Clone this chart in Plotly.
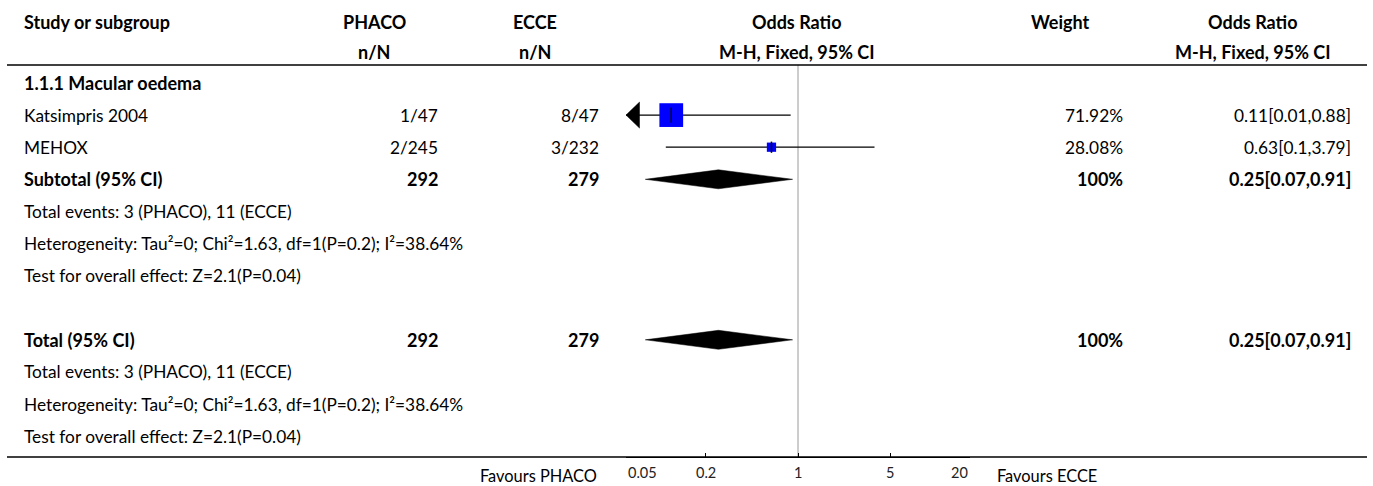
import math
import plotly.graph_objects as go

# ---------------- data ----------------
subgroup_title = "1.1.1 Macular oedema"
studies = ["Katsimpris 2004", "MEHOX"]
phaco_events = [1, 2]
phaco_total = [47, 245]
ecce_events = [8, 3]
ecce_total = [47, 232]
or_est = [0.11, 0.63]
or_lo = [0.01, 0.1]
or_hi = [0.88, 3.79]
weights = [71.92, 28.08]

sub_phaco_total = 292
sub_ecce_total = 279
sub_est = 0.25
sub_lo = 0.07
sub_hi = 0.91
sub_weight = 100

tot_phaco_total = 292
tot_ecce_total = 279
tot_est = 0.25
tot_lo = 0.07
tot_hi = 0.91
tot_weight = 100

events_text = "Total events: 3 (PHACO), 11 (ECCE)"
het_text = "Heterogeneity: Tau²=0; Chi²=1.63, df=1(P=0.2); I²=38.64%"
test_text = "Test for overall effect: Z=2.1(P=0.04)"

tick_vals = [0.05, 0.2, 1, 5, 20]
tick_text = ["0.05", "0.2", "1", "5", "20"]
x_min, x_max = 0.05, 20
left_label = "Favours PHACO"
right_label = "Favours ECCE"

# ---------------- layout geometry ----------------
W, H = 1373, 486
ROW0_PX = 83.0     # pixel centre of first body row
ROW_H = 32.1       # row pitch in pixels
AXIS_PX = 457.0    # y pixel of the bottom axis line
TOP_LINE_PX = 65.0
AX_X0, AX_X1 = 626.0, 970.0

def r_of_px(py):
    return (py - ROW0_PX) / ROW_H

def px(xp):
    return xp / W

def py_paper(yp):
    return 1 - yp / H

FONT = "Lato"
FS = 17.3
FS_B = 18.0
BLACK = "#000000"

def fmt(v):
    return f"{v:g}"

fig = go.Figure()
ann = []

def txt(x, y, s, anchor="left", bold=False, yref="y", size=None, family=FONT):
    if size is None:
        size = FS_B if bold else FS
    ann.append(dict(x=x, y=y, xref="paper", yref=yref, text=(f"<b>{s}</b>" if bold else s),
                    showarrow=False, xanchor=anchor, yanchor="middle",
                    font=dict(family=family, size=size, color=BLACK)))

# header
hdr1 = r_of_px(22)
hdr2 = r_of_px(52)
txt(px(22), hdr1, "Study or subgroup", bold=True)
txt(px(374), hdr1, "PHACO", "center", True)
txt(px(374), hdr2, "n/N", "center", True)
txt(px(535), hdr1, "ECCE", "center", True)
txt(px(535), hdr2, "n/N", "center", True)
txt(px(797), hdr1, "Odds Ratio", "center", True)
txt(px(797), hdr2, "M-H, Fixed, 95% CI", "center", True)
txt(px(1060), hdr1, "Weight", "center", True)
txt(px(1253), hdr1, "Odds Ratio", "center", True)
txt(px(1253), hdr2, "M-H, Fixed, 95% CI", "center", True)

COL_PHACO = px(440)
COL_ECCE = px(601)
COL_W = px(1125)
COL_OR = px(1353)
COL_L = px(22)

# rows
row = 0
txt(COL_L, row, subgroup_title, bold=True)
study_rows = []
for i, s in enumerate(studies):
    row += 1
    study_rows.append(row)
    txt(COL_L, row, s)
    txt(COL_PHACO, row, f"{phaco_events[i]}/{phaco_total[i]}", "right")
    txt(COL_ECCE, row, f"{ecce_events[i]}/{ecce_total[i]}", "right")
    txt(COL_W, row, f"{weights[i]:.2f}%", "right")
    txt(COL_OR, row, f"{fmt(or_est[i])}[{fmt(or_lo[i])},{fmt(or_hi[i])}]", "right")

row += 1
sub_row = row
txt(COL_L, row, "Subtotal (95% CI)", bold=True)
txt(COL_PHACO, row, str(sub_phaco_total), "right", True)
txt(COL_ECCE, row, str(sub_ecce_total), "right", True)
txt(COL_W, row, f"{sub_weight}%", "right", True)
txt(COL_OR, row, f"{fmt(sub_est)}[{fmt(sub_lo)},{fmt(sub_hi)}]", "right", True)
for t in [events_text, het_text, test_text]:
    row += 1
    txt(COL_L, row, t)
row += 2
tot_row = row
txt(COL_L, row, "Total (95% CI)", bold=True)
txt(COL_PHACO, row, str(tot_phaco_total), "right", True)
txt(COL_ECCE, row, str(tot_ecce_total), "right", True)
txt(COL_W, row, f"{tot_weight}%", "right", True)
txt(COL_OR, row, f"{fmt(tot_est)}[{fmt(tot_lo)},{fmt(tot_hi)}]", "right", True)
for t in [events_text, het_text, test_text]:
    row += 1
    txt(COL_L, row, t)

# ---------------- forest marks ----------------
px_per_dec = (AX_X1 - AX_X0) / (math.log10(x_max) - math.log10(x_min))

# null line
fig.add_trace(go.Scatter(x=[1, 1], y=[r_of_px(TOP_LINE_PX), r_of_px(AXIS_PX)], mode="lines",
                         line=dict(color="#9a9a9a", width=1), hoverinfo="skip", showlegend=False))

for i, r in enumerate(study_rows):
    lo = max(or_lo[i], x_min)
    hi = min(or_hi[i], x_max)
    fig.add_trace(go.Scatter(x=[lo, hi], y=[r, r], mode="lines",
                             line=dict(color=BLACK, width=1.2), hoverinfo="skip", showlegend=False))
    if or_lo[i] < x_min:
        base = x_min * 10 ** (13.5 / px_per_dec)
        hh = 13 / ROW_H
        fig.add_trace(go.Scatter(x=[x_min, base, base, x_min], y=[r, r - hh, r + hh, r],
                                 mode="lines", fill="toself", fillcolor=BLACK,
                                 line=dict(color=BLACK, width=0.5), hoverinfo="skip", showlegend=False))
    fig.add_trace(go.Scatter(x=[or_est[i]], y=[r], mode="markers",
                             marker=dict(symbol="square", size=weights[i] * 0.33, color="#0000ff",
                                         line=dict(width=0)),
                             hoverinfo="skip", showlegend=False))
    fig.add_trace(go.Scatter(x=[or_est[i]], y=[r], mode="markers",
                             marker=dict(symbol="line-ns-open", size=max(8, weights[i] * 0.15),
                                         color=BLACK, line=dict(color=BLACK, width=1.5)),
                             hoverinfo="skip", showlegend=False))

dh = 9.5 / ROW_H
for r, lo, est, hi in [(sub_row, sub_lo, sub_est, sub_hi), (tot_row, tot_lo, tot_est, tot_hi)]:
    fig.add_trace(go.Scatter(x=[lo, est, hi, est, lo], y=[r, r - dh, r, r + dh, r],
                             mode="lines", fill="toself", fillcolor=BLACK,
                             line=dict(color=BLACK, width=0.5), hoverinfo="skip", showlegend=False))

# tick labels as annotations (first left aligned, last right aligned)
for k, (v, t) in enumerate(zip(tick_vals, tick_text)):
    anchor = "left" if k == 0 else ("right" if k == len(tick_vals) - 1 else "center")
    ann.append(dict(x=math.log10(v), y=py_paper(472), xref="x", yref="paper", text=t,
                    showarrow=False, xanchor=anchor, yanchor="middle",
                    font=dict(family=FONT, size=14.5, color="#222222")))
txt(px(599), py_paper(475), left_label, "right", yref="paper", size=16.4)
txt(px(995), py_paper(475), right_label, "left", yref="paper", size=16.4)

shapes = [
    dict(type="line", xref="paper", yref="paper", x0=px(7), x1=px(1367),
         y0=py_paper(TOP_LINE_PX), y1=py_paper(TOP_LINE_PX), line=dict(color=BLACK, width=1.3)),
    dict(type="line", xref="paper", yref="paper", x0=px(7), x1=px(1367),
         y0=py_paper(AXIS_PX), y1=py_paper(AXIS_PX), line=dict(color=BLACK, width=1.3)),
]

fig.update_layout(
    width=W, height=H, margin=dict(l=0, r=0, t=0, b=0),
    paper_bgcolor="white", plot_bgcolor="white",
    annotations=ann, shapes=shapes, showlegend=False,
    xaxis=dict(type="log", range=[math.log10(x_min), math.log10(x_max)],
               domain=[AX_X0 / W, AX_X1 / W], showgrid=False, zeroline=False,
               showline=True, linecolor=BLACK, linewidth=1,
               ticks="inside", ticklen=4, tickcolor=BLACK, tickwidth=1,
               tickvals=tick_vals, showticklabels=False, fixedrange=True),
    yaxis=dict(range=[r_of_px(AXIS_PX), r_of_px(0)], domain=[1 - AXIS_PX / H, 1],
               showgrid=False, zeroline=False, showline=False, showticklabels=False,
               ticks="", fixedrange=True),
)

fig.write_html("out.html", config={"displayModeBar": False},
               post_script="document.body.style.margin='0';document.body.style.overflow='hidden';")
